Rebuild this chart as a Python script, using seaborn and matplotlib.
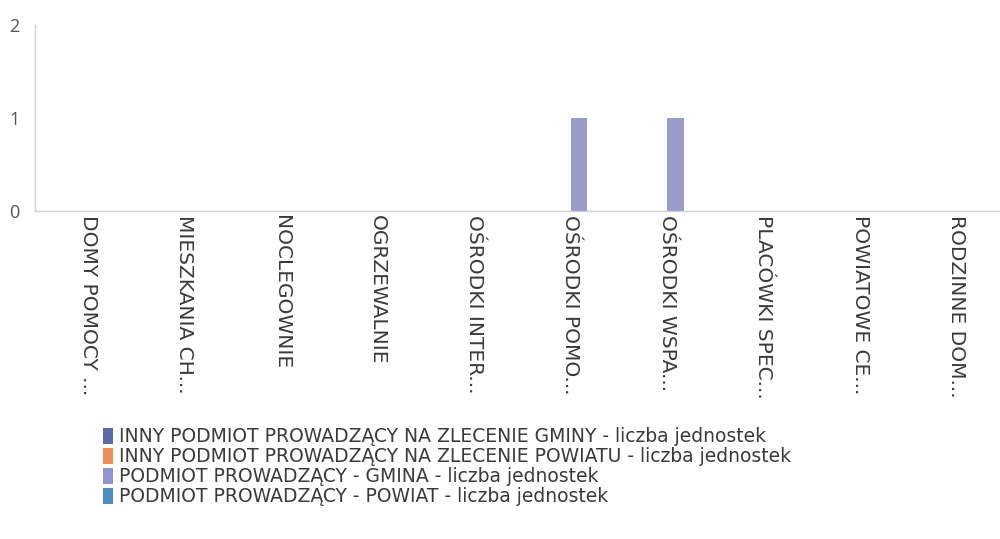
import matplotlib
matplotlib.use("Agg")
import matplotlib.pyplot as plt
import seaborn as sns
import pandas as pd

# Facility types (truncated as shown on the axis)
categories = [
    "DOMY POMOCY ...", "MIESZKANIA CH...", "NOCLEGOWNIE", "OGRZEWALNIE",
    "OŚRODKI INTER...", "OŚRODKI POMO...", "OŚRODKI WSPA...", "PLACÓWKI SPEC...",
    "POWIATOWE CE...", "RODZINNE DOM...",
]

series_names = [
    "INNY PODMIOT PROWADZĄCY NA ZLECENIE GMINY - liczba jednostek",
    "INNY PODMIOT PROWADZĄCY NA ZLECENIE POWIATU - liczba jednostek",
    "PODMIOT PROWADZĄCY - GMINA - liczba jednostek",
    "PODMIOT PROWADZĄCY - POWIAT - liczba jednostek",
]

inny_gmina = [0, 0, 0, 0, 0, 0, 0, 0, 0, 0]
inny_powiat = [0, 0, 0, 0, 0, 0, 0, 0, 0, 0]
gmina = [0, 0, 0, 0, 0, 1, 1, 0, 0, 0]
powiat = [0, 0, 0, 0, 0, 0, 0, 0, 0, 0]

colors = ["#5a6aa8", "#ee8a55", "#9195d2", "#4a8fbf"]

rows = []
for name, vals in zip(series_names, [inny_gmina, inny_powiat, gmina, powiat]):
    for cat, v in zip(categories, vals):
        rows.append({"kategoria": cat, "seria": name, "wartosc": v})
df = pd.DataFrame(rows)

sns.set_theme(style="white")
plt.rcParams["font.family"] = ["DejaVu Sans"]

fig = plt.figure(figsize=(10, 5.39), dpi=100)
ax = fig.add_axes([0.035, 0.608, 0.965, 0.346])

sns.barplot(data=df, x="kategoria", y="wartosc", hue="seria",
            order=categories, hue_order=series_names, palette=colors,
            width=0.7, linewidth=0, ax=ax, legend=False)

ax.set_xlim(-0.55, 9.45)
ax.set_ylim(0, 2)
ax.set_yticks([0, 1, 2])
ax.set_xlabel("")
ax.set_ylabel("")
ax.tick_params(axis="y", length=0, pad=11, labelsize=13, labelcolor="#555555")
ax.tick_params(axis="x", length=0, pad=3, labelsize=14.5, labelcolor="#3a3a3a")
for lab in ax.get_yticklabels():
    lab.set_family("Open Sans")
for lab in ax.get_xticklabels():
    lab.set_rotation(270)
    lab.set_ha("center")
    lab.set_va("top")

for side in ["top", "right"]:
    ax.spines[side].set_visible(False)
for side in ["left", "bottom"]:
    ax.spines[side].set_color("#d0d0d0")
    ax.spines[side].set_linewidth(1.0)

handles = [plt.Rectangle((0, 0), 1, 1, facecolor=c, edgecolor="none") for c in colors]
fig.legend(handles, series_names, loc="upper left", bbox_to_anchor=(0.103, 0.207),
           frameon=False, fontsize=13.5, labelspacing=0.05, handlelength=0.55,
           handleheight=0.95, handletextpad=0.3, borderpad=0, borderaxespad=0,
           labelcolor="#3a3a3a")

fig.savefig("out.png", dpi=100, facecolor="white")
